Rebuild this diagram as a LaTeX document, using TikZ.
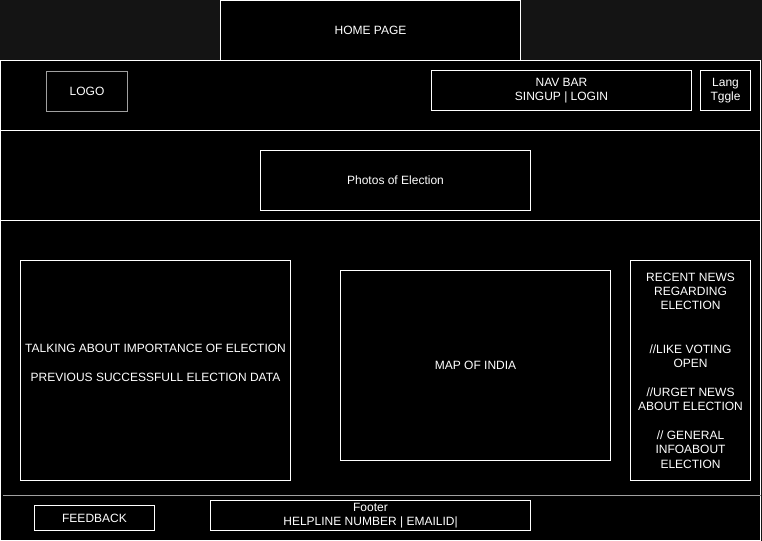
\documentclass[tikz,border=0pt]{standalone}
\usepackage{fontspec}
\setmainfont{Liberation Sans}
\begin{document}
\begin{tikzpicture}[x=0.75pt,y=-0.75pt,
  box/.style={draw=white,line width=0.75pt,fill=black,text=white,inner sep=0pt,align=center,
    font=\fontsize{9pt}{10.8pt}\selectfont},
  lbl/.style={text=white,inner sep=0pt,align=center,font=\fontsize{9pt}{10.8pt}\selectfont},
  rule/.style={draw=white,line width=0.75pt}]
\definecolor{bggray}{HTML}{141414}
\definecolor{lgray}{HTML}{A0A0A0}
\fill[bggray] (0,0) rectangle (762,541);
\useasboundingbox (0,0) rectangle (762,541);
% main frame
\node[box,minimum width=570pt,minimum height=360pt] (frame) at (380.5,300.5) {};
% home tab
\node[box,minimum width=225pt,minimum height=45pt] (home) at (370.5,30.5) {HOME PAGE};
% header rules
\coordinate (h1l) at (0.5,130.5); \coordinate (h1r) at (760.5,130.5);
\coordinate (h2l) at (0.5,220.5); \coordinate (h2r) at (760.5,220.5);
\coordinate (h3l) at (3,495.5); \coordinate (h3r) at (760.5,495.5);
\draw[rule] (h1l) -- (h1r);
\draw[rule] (h2l) -- (h2r);
\draw[draw=lgray,line width=0.75pt] (h3l) -- (h3r);
% header boxes
\node[box,draw=lgray,minimum width=60.75pt,minimum height=30pt] (logo) at (87,91.5) {LOGO};
\node[box,minimum width=195pt,minimum height=30pt] (nav) at (561.5,90.5) {NAV BAR\\SINGUP | LOGIN};
\node[box,minimum width=37.5pt,minimum height=30pt] (lang) at (725.5,90.5) {Lang\\Tggle};
% photos
\node[box,minimum width=202.5pt,minimum height=45pt] (photos) at (395.5,180.5) {Photos of Election};
% content
\node[box,minimum width=202.5pt,minimum height=165pt] (left) at (155.5,370.5) {};
\node[lbl] (lefttxt) at (155.5,362.5) {TALKING ABOUT IMPORTANCE OF ELECTION\\[10.8pt]PREVIOUS SUCCESSFULL ELECTION DATA};
\node[box,minimum width=202.5pt,minimum height=142.5pt] (map) at (475.5,365.5) {MAP OF INDIA};
\node[box,minimum width=90pt,minimum height=165pt] (news) at (690.5,370.5)
  {RECENT NEWS\\REGARDING\\ELECTION\\[21.6pt]//LIKE VOTING\\OPEN\\[10.8pt]//URGET NEWS\\ABOUT ELECTION\\[10.8pt]// GENERAL\\INFOABOUT\\ELECTION};
% footer
\node[box,minimum width=90pt,minimum height=18.75pt] (feedback) at (94.5,518) {FEEDBACK};
\node[box,minimum width=240pt,minimum height=22.5pt] (footer) at (370.5,515.5) {Footer\\HELPLINE NUMBER | EMAILID|};
\end{tikzpicture}
\end{document}
